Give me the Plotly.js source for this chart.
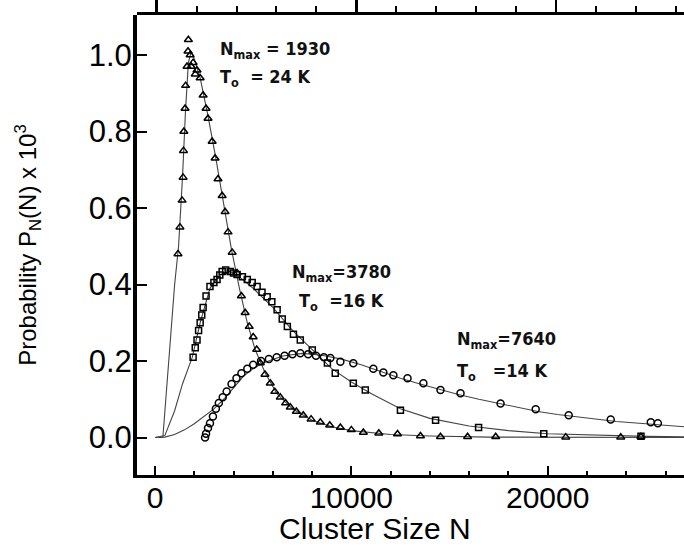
<!DOCTYPE html>
<html>
<head>
<meta charset="utf-8">
<script src="https://cdn.plot.ly/plotly-3.0.1.min.js"></script>
<style>html,body{margin:0;padding:0;background:#fff;}#chart{width:684px;height:554px;}</style>
</head>
<body>
<div id="chart"></div>
<script>
// Series 1: Nmax = 1930, T0 = 24 K (triangles)
const triN = [1170,1270,1380,1430,1450,1470,1530,1560,1630,1680,1700,1790,1850,1940,2050,2140,2300,2450,2600,2700,2910,3060,3210,3420,3570,3720,3930,4180,4400,4590,4800,5000,5180,5360,5600,5870,6100,6380,6650,6890,7200,7550,7950,8420,8900,9440,10000,10610,11400,12350,13520,14540,15920,17350,20920,23720,24750];
const triP = [0.48,0.55,0.62,0.68,0.75,0.80,0.86,0.92,0.97,1.01,1.04,1.00,0.97,0.98,0.95,0.96,0.94,0.895,0.86,0.834,0.774,0.73,0.676,0.632,0.59,0.537,0.484,0.43,0.37,0.326,0.29,0.263,0.23,0.195,0.165,0.142,0.12,0.105,0.09,0.079,0.068,0.058,0.048,0.04,0.032,0.026,0.02,0.013,0.011,0.009,0.004,0.002,0.002,0.002,0.001,0.001,0.002];
// Series 2: Nmax = 3780, T0 = 16 K (squares)
const sqN = [1940,2050,2140,2220,2300,2380,2450,2600,2800,3000,3160,3300,3420,3600,3830,4000,4180,4450,4700,4950,5200,5450,5710,5950,6220,6480,6740,7050,7400,8010,8780,9180,10100,10710,12500,14290,16480,19800,24750];
const sqP = [0.21,0.235,0.255,0.28,0.30,0.32,0.34,0.37,0.395,0.405,0.413,0.425,0.434,0.438,0.434,0.43,0.426,0.42,0.413,0.405,0.395,0.38,0.368,0.355,0.334,0.31,0.29,0.27,0.255,0.229,0.195,0.168,0.142,0.124,0.071,0.045,0.026,0.01,0.003];
// Series 3: Nmax = 7640, T0 = 14 K (circles)
const ciN = [2550,2600,2700,2800,2950,3100,3250,3450,3650,3900,4150,4400,4700,5000,5400,5800,6200,6600,7000,7400,7800,8200,8600,8930,9440,10100,11120,11630,12140,12860,13670,14540,15560,17600,19390,21070,23210,25250,25610];
const ciP = [0.0,0.01,0.025,0.037,0.055,0.075,0.09,0.105,0.12,0.14,0.155,0.168,0.18,0.19,0.2,0.205,0.21,0.214,0.218,0.22,0.218,0.214,0.21,0.208,0.198,0.194,0.18,0.17,0.163,0.155,0.142,0.124,0.116,0.089,0.074,0.058,0.047,0.04,0.037];
// Fitted curves
const fitTriN = [0,400,700,1000,1200,1400,1550,1700,1850,2000,2300,2700,3100,3500,3900,4300,4700,5100,5600,6200,7000,8000,9000,10000,12000,14000,17000,27000];
const fitTriP = [0,0,0.2,0.4,0.5,0.68,0.85,0.98,1.01,0.99,0.94,0.84,0.73,0.61,0.49,0.39,0.30,0.23,0.17,0.115,0.075,0.045,0.028,0.018,0.008,0.004,0.001,0];
const fitSqN = [0,500,1000,1400,1900,2300,2800,3300,3800,4300,5000,6000,7000,8000,9000,10000,11000,12500,14000,16000,18000,20000,22000,25000,27000];
const fitSqP = [0,0.005,0.07,0.14,0.21,0.30,0.39,0.425,0.435,0.42,0.39,0.34,0.28,0.23,0.18,0.145,0.115,0.075,0.05,0.03,0.018,0.01,0.007,0.003,0.002];
const fitCiN = [0,500,1000,1500,2000,2500,3000,3500,4000,4500,5000,5500,6500,7500,8500,9500,10500,11500,12500,13500,14500,15500,16500,17500,18500,19500,20500,21500,22500,23500,24500,25500,27000];
const fitCiP = [0,0.001,0.008,0.02,0.036,0.055,0.075,0.1,0.13,0.16,0.18,0.195,0.213,0.22,0.215,0.205,0.19,0.172,0.155,0.14,0.125,0.112,0.1,0.089,0.078,0.068,0.06,0.054,0.047,0.042,0.038,0.034,0.028];
// Curve labels
const labelLine1 = ['N<sub>max</sub> = 1930', 'N<sub>max</sub>=3780', 'N<sub>max</sub>=7640'];
const labelLine2 = ['T<sub>o</sub>  = 24 K', 'T<sub>o</sub>  =16 K', 'T<sub>o</sub>   =14 K'];

const fitLine = {color:'#444', width:1.1};
const traces = [
  {x:fitTriN, y:fitTriP, mode:'lines', line:fitLine, hoverinfo:'skip'},
  {x:fitSqN, y:fitSqP, mode:'lines', line:fitLine, hoverinfo:'skip'},
  {x:fitCiN, y:fitCiP, mode:'lines', line:fitLine, hoverinfo:'skip'},
  {x:triN, y:triP, mode:'markers', marker:{symbol:'triangle-up-open', size:7, color:'#000', line:{width:1.5}}},
  {x:sqN, y:sqP, mode:'markers', marker:{symbol:'square-open', size:6, color:'#000', line:{width:1.5}}},
  {x:ciN, y:ciP, mode:'markers', marker:{symbol:'circle-open', size:7, color:'#000', line:{width:1.5}}},
  // invisible copy in a thin strip subplot along the top edge, which carries the scanned top scale
  {x:fitCiN, y:fitCiP, xaxis:'x2', yaxis:'y2', mode:'lines', opacity:0, line:{width:0.1}, hoverinfo:'skip'}
];

const labelPos = [[3209,1.013,3209,0.94],[6875,0.43,7232,0.354],[15279,0.255,15279,0.171]];
const annFont = {family:'DejaVu Sans Condensed', size:18, color:'#111'};
const ann = [];
labelLine1.forEach((t,i)=>{
  const p = labelPos[i];
  ann.push({x:p[0], y:p[1], xref:'x', yref:'y', text:'<b>'+t+'</b>', showarrow:false, xanchor:'left', yanchor:'middle', font:annFont});
  ann.push({x:p[2], y:p[3], xref:'x', yref:'y', text:'<b>'+labelLine2[i]+'</b>', showarrow:false, xanchor:'left', yanchor:'middle', font:annFont});
});
ann.push({x:(375-137)/(684-137), y:-(528-475)/(475-15), xref:'paper', yref:'paper', text:'Cluster Size N', showarrow:false,
  xanchor:'center', yanchor:'middle', font:{family:'Liberation Sans, Arial', size:30, color:'#000'}});

const layout = {
  width:684, height:554,
  margin:{l:137, r:0, t:15, b:79, pad:0},
  paper_bgcolor:'#fff', plot_bgcolor:'rgba(0,0,0,0)',
  showlegend:false,
  font:{family:'Liberation Sans, Arial', color:'#000'},
  xaxis:{type:'linear', anchor:'y', range:[-917,26942], showgrid:false, zeroline:false, showline:true, linecolor:'#000', linewidth:3,
    ticks:'inside', ticklen:9, tickwidth:2, tickcolor:'#000', tickmode:'linear', dtick:10000, tick0:0, tickformat:'d', ticklabelstandoff:-6,
    tickfont:{size:30, family:'Liberation Sans, Arial'},
    minor:{dtick:2000, ticks:'inside', ticklen:4, tickwidth:2, tickcolor:'#000'}},
  yaxis:{type:'linear', anchor:'x', domain:[0,1], range:[-0.098,1.1046], showgrid:false, zeroline:false, showline:true, linecolor:'#000', linewidth:4,
    ticks:'inside', ticklen:10, tickwidth:2, tickcolor:'#000', dtick:0.2, tick0:0, tickformat:'.1f', ticklabelstandoff:-5,
    tickfont:{size:31, family:'Liberation Sans, Arial'},
    title:{text:'Probability P<sub>N</sub>(N) x 10<sup>3</sup>', font:{size:24, family:'Liberation Sans, Arial'}, standoff:46}},
  xaxis2:{type:'linear', anchor:'y2', side:'top', domain:[0,1], range:[-987,26418], showgrid:false, zeroline:false,
    showline:true, linecolor:'#000', linewidth:3, ticks:'outside', ticklen:12, tickwidth:2.5, tickcolor:'#000',
    tickmode:'linear', dtick:10000, tick0:0, showticklabels:false,
    minor:{dtick:2000, ticks:'outside', ticklen:6, tickwidth:2, tickcolor:'#000'}},
  yaxis2:{type:'linear', anchor:'x2', domain:[0.996,1], range:[0,1], visible:false, showgrid:false, zeroline:false},
  annotations:ann
};
Plotly.newPlot('chart', traces, layout, {staticPlot:true, displayModeBar:false});
</script>
</body>
</html>
